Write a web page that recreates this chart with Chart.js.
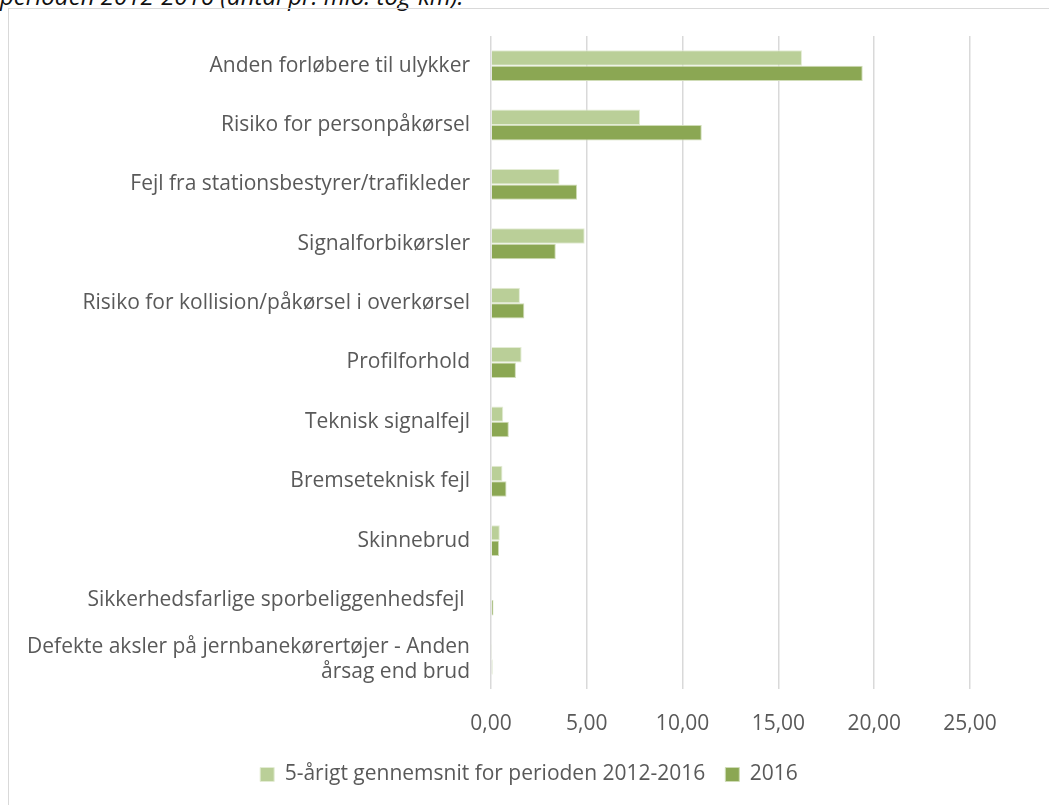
<!DOCTYPE html>
<html>
<head>
<meta charset="utf-8">
<script src="https://cdn.jsdelivr.net/npm/chart.js@4.4.0/dist/chart.umd.min.js"></script>
<style>
  html, body { margin: 0; padding: 0; background: #fff; overflow: hidden; }
  #title {
    position: absolute; left: 0; top: -21px; white-space: nowrap;
    font-family: "Open Sans", sans-serif; font-style: italic; font-size: 24px; color: #111;
  }
  #box {
    position: absolute; left: 8px; top: 8px; width: 1060px; height: 820px;
    border-left: 1px solid #d9d9d9; border-top: 1px solid #d9d9d9; background: transparent;
  }
  #wrap { position: absolute; left: 9px; top: 9px; width: 1040px; height: 796px; }
</style>
</head>
<body>
<div id="title">perioden 2012-2016 (antal pr. mio. tog-km).</div>
<div id="box"></div>
<div id="wrap"><canvas id="barUlykker"></canvas></div>
<script>
var categories = [
  'Anden forløbere til ulykker',
  'Risiko for personpåkørsel',
  'Fejl fra stationsbestyrer/trafikleder',
  'Signalforbikørsler',
  'Risiko for kollision/påkørsel i overkørsel',
  'Profilforhold',
  'Teknisk signalfejl',
  'Bremseteknisk fejl',
  'Skinnebrud',
  'Sikkerhedsfarlige sporbeliggenhedsfejl ',
  ['Defekte aksler på jernbanekørertøjer - Anden', 'årsag end brud']
];
var avg2012_2016 = [16.23, 7.78, 3.58, 4.89, 1.51, 1.60, 0.64, 0.60, 0.46, 0.03, 0.02];
var year2016 = [19.40, 11.00, 4.49, 3.38, 1.74, 1.30, 0.93, 0.81, 0.42, 0.13, 0.08];
var xTicks = [0, 5, 10, 15, 20, 25];

var textColor = '#595959';
var font = { family: '"Open Sans", sans-serif', size: 21 };

const ctx = document.getElementById('barUlykker');

new Chart(ctx, {
  type: 'bar',
  data: {
    labels: categories,
    datasets: [
      {
        label: '5-årigt gennemsnit for perioden 2012-2016',
        data: avg2012_2016,
        backgroundColor: '#bacf98',
        borderColor: '#e3ecd4',
        borderWidth: 1,
        categoryPercentage: 0.52,
        barPercentage: 1.0
      },
      {
        label: '2016',
        data: year2016,
        backgroundColor: '#8ba753',
        borderColor: '#cfdcb6',
        borderWidth: 1,
        categoryPercentage: 0.52,
        barPercentage: 1.0
      }
    ]
  },
  options: {
    indexAxis: 'y',
    responsive: true,
    maintainAspectRatio: false,
    animation: false,
    layout: { padding: { left: 0, right: 0, top: 27, bottom: 10 } },
    scales: {
      x: {
        min: 0,
        max: 25,
        afterBuildTicks: function(scale) {
          scale.ticks = xTicks.map(v => ({ value: v }));
        },
        afterFit: function(scale) {
          scale.height = 55;
          // keep room on the right of the plot without shrinking the legend row
          scale.paddingRight = 79;
        },
        grid: { color: '#d9d9d9', lineWidth: 1.5, drawTicks: false },
        border: { display: false },
        ticks: {
          color: textColor,
          font: font,
          padding: 22,
          callback: function(v) { return v.toFixed(2).replace('.', ','); }
        }
      },
      y: {
        afterFit: function(scale) {
          scale.width = 482;
          scale.paddingTop = 0;
          scale.paddingBottom = 0;
        },
        grid: { display: false, drawTicks: false },
        border: { display: false },
        ticks: { color: textColor, font: font, padding: 21, autoSkip: false }
      }
    },
    plugins: {
      legend: {
        position: 'bottom',
        labels: {
          color: textColor,
          font: font,
          boxWidth: 14,
          boxHeight: 14,
          padding: 20
        }
      },
      tooltip: { enabled: false }
    }
  }
});
</script>
</body>
</html>
